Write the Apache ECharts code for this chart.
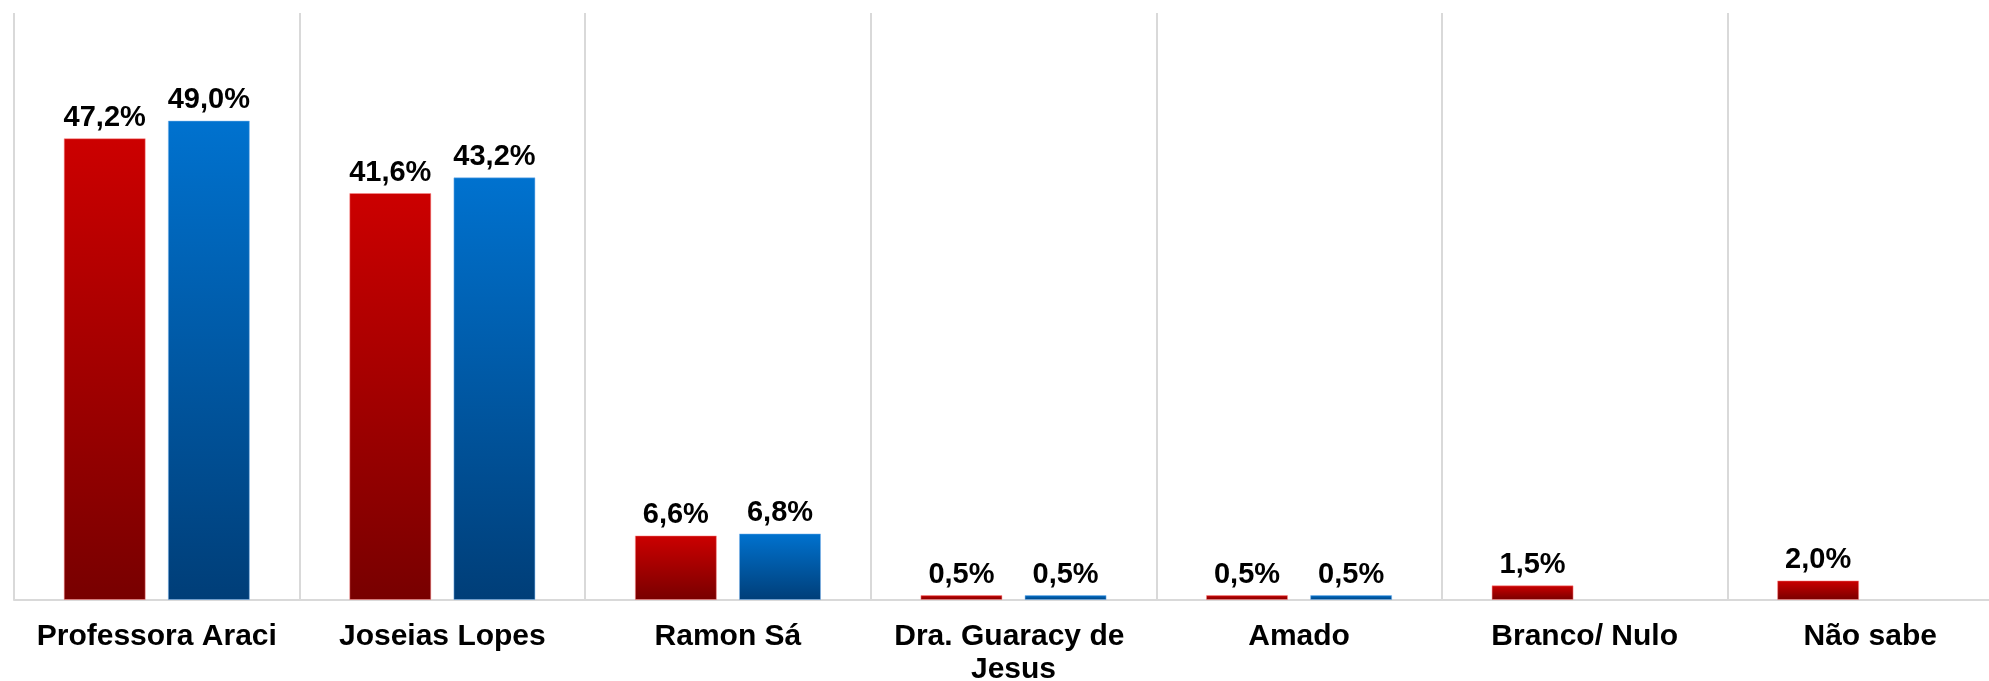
<!DOCTYPE html>
<html>
<head>
<meta charset="utf-8">
<script src="https://cdn.jsdelivr.net/npm/echarts@6/dist/echarts.min.js"></script>
<style>
  html, body { margin: 0; padding: 0; background: #fff; }
  #chart { width: 1989px; height: 681px; }
</style>
</head>
<body>
<div id="chart"></div>
<script>
// candidatos
var categories = ['Professora Araci', 'Joseias Lopes', 'Ramon Sá', 'Dra. Guaracy de Jesus', 'Amado', 'Branco/ Nulo', 'Não sabe']
// primeira série (vermelho)
var serieA = [47.2, 41.6, 6.6, 0.5, 0.5, 1.5, 2.0]
// segunda série (azul) - sem valor para branco/nulo e não sabe
var serieB = [49.0, 43.2, 6.8, 0.5, 0.5, null, null]

var chart = echarts.init(document.getElementById('chart'))

function pct(p) {
  return p.value.toFixed(1).replace('.', ',') + '%'
}

function grad(top, bottom) {
  return new echarts.graphic.LinearGradient(0, 0, 0, 1, [
    { offset: 0, color: top },
    { offset: 1, color: bottom }
  ])
}

var labelStyle = {
  show: true,
  position: 'top',
  distance: 6,
  formatter: pct,
  color: '#000',
  fontFamily: 'Liberation Sans, Arial, sans-serif',
  fontWeight: 'bold',
  fontSize: 29
}

var option = {
  animation: false,
  grid: {
    left: 14,
    top: 13,
    right: -24,
    bottom: 81,
    containLabel: false,
    outerBoundsMode: 'none'
  },
  xAxis: {
    type: 'category',
    data: categories,
    axisLine: { show: true, lineStyle: { color: '#d9d9d9', width: 2 } },
    axisTick: { show: false },
    splitLine: { show: true, interval: 0, lineStyle: { color: '#d9d9d9', width: 2 } },
    axisLabel: {
      interval: 0,
      margin: 20,
      color: '#000',
      fontFamily: 'Liberation Sans, Arial, sans-serif',
      fontWeight: 'bold',
      fontSize: 30,
      lineHeight: 33,
      width: 270,
      overflow: 'break'
    }
  },
  yAxis: {
    type: 'value',
    min: 0,
    max: 60,
    show: false,
    splitLine: { show: false }
  },
  series: [
    {
      name: 'A',
      type: 'bar',
      data: serieA,
      barWidth: 82,
      barGap: '27%',
      itemStyle: { color: grad('#cc0000', '#780000'), borderColor: 'rgba(255,140,140,0.5)', borderWidth: 1 },
      label: labelStyle
    },
    {
      name: 'B',
      type: 'bar',
      data: serieB,
      barWidth: 82,
      barGap: '27%',
      itemStyle: { color: grad('#0072cf', '#003e78'), borderColor: 'rgba(120,180,240,0.5)', borderWidth: 1 },
      label: labelStyle
    }
  ]
}

chart.setOption(option)
</script>
</body>
</html>
